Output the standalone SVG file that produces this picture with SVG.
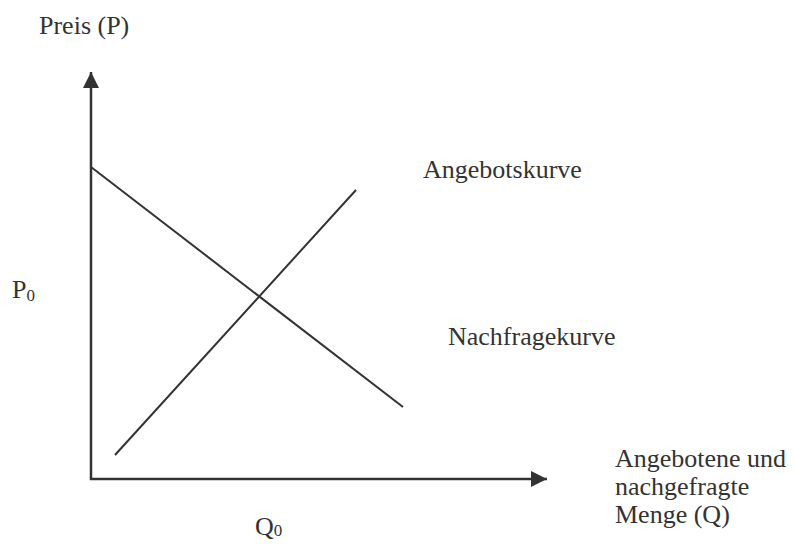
<svg xmlns="http://www.w3.org/2000/svg" width="795" height="544" viewBox="0 0 795 544">
<style>
text{font-family:"Liberation Serif","Times New Roman",serif;font-size:26px;fill:#333}
.sub{font-size:17px}
.ax{stroke:#333;stroke-width:2.5;fill:none}
.cv{stroke:#333;stroke-width:2;fill:none}
</style>
<defs>
<marker id="ah" markerWidth="16" markerHeight="16" refX="16" refY="8" orient="auto" markerUnits="userSpaceOnUse">
<path d="M0,0 L16,8 L0,16 Z" fill="#333"/>
</marker>
</defs>
<g id="connectors">
<line class="ax" x1="91" y1="480" x2="91" y2="72" marker-end="url(#ah)"/>
<line class="ax" x1="90" y1="479" x2="547" y2="479" marker-end="url(#ah)"/>
<line id="nachfrage" class="cv" x1="91" y1="167" x2="403" y2="407"/>
<line id="angebot" class="cv" x1="115" y1="455" x2="356" y2="190"/>
</g>
<g id="label-preis"><text x="39" y="34">Preis (P)</text></g>
<g id="label-p0"><text x="12" y="298">P<tspan class="sub" dy="3">0</tspan></text></g>
<g id="label-angebotskurve"><text x="423" y="178">Angebotskurve</text></g>
<g id="label-nachfragekurve"><text x="448" y="345">Nachfragekurve</text></g>
<g id="label-q0"><text x="255" y="535">Q<tspan class="sub" dy="1">0</tspan></text></g>
<g id="label-menge"><text x="615" y="467">Angebotene und<tspan x="615" dy="28">nachgefragte</tspan><tspan x="615" dy="28">Menge (Q)</tspan></text></g>
</svg>
